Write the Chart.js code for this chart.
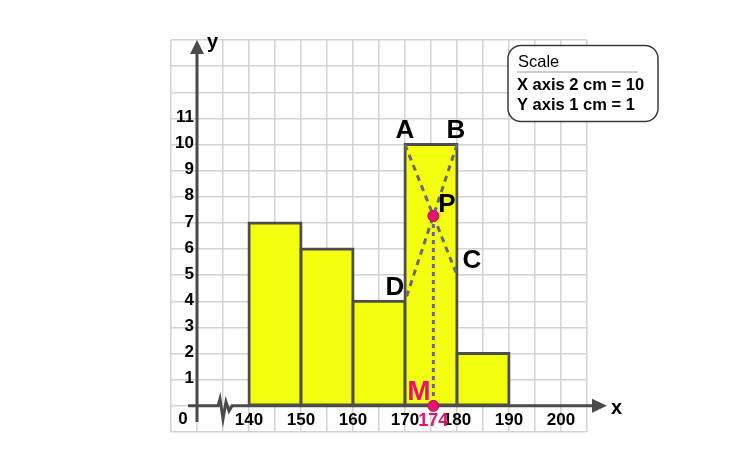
<!DOCTYPE html>
<html>
<head>
<meta charset="utf-8">
<script src="https://cdn.jsdelivr.net/npm/chart.js@4.4.1/dist/chart.umd.min.js"></script>
<style>
  body { margin: 0; background: #fff; }
  #wrap { width: 750px; height: 472px; }
</style>
</head>
<body>
<div id="wrap"><canvas id="myChart"></canvas></div>
<script>
// histogram data
const classMids = [145, 155, 165, 175, 185];
const frequencies = [7, 6, 4, 10, 2];
const xTickLabels = [140, 150, 160, 170, 180, 190, 200];
const yTickLabels = [1, 2, 3, 4, 5, 6, 7, 8, 9, 10, 11];

// mode construction points [x, y]
const pointA = [170, 10];
const pointB = [180, 10];
const pointC = [180, 5];
const pointD = [170, 4];
const pointP = [175.45, 7.27];
const pointM = [175.45, 0];
const modeLabel = '174';

const FONT = '"Liberation Sans", Arial, sans-serif';
const AXIS_COLOR = '#4a4a4a';
const PINK = '#e4136f';

const ctx = document.getElementById('myChart').getContext('2d');

function xy(p) { return { x: p[0], y: p[1] }; }

const drawExtras = {
    id: 'drawExtras',
    beforeDatasetsDraw(chart) {
        const c = chart.ctx;
        const xs = chart.scales.x, ys = chart.scales.y;
        const x0 = xs.getPixelForValue(130);
        const y0 = ys.getPixelForValue(0);
        c.save();
        c.strokeStyle = AXIS_COLOR;
        c.fillStyle = AXIS_COLOR;
        c.lineWidth = 3;
        // x axis with a break
        c.beginPath();
        c.moveTo(188, y0);
        c.lineTo(218, y0);
        c.lineTo(220, y0 - 7);
        c.lineTo(223, y0 + 13);
        c.lineTo(226, y0 - 4);
        c.lineTo(229, y0 + 5);
        c.lineTo(232, y0);
        c.lineTo(595, y0);
        c.stroke();
        c.beginPath();
        c.moveTo(607, y0);
        c.lineTo(592, y0 - 7);
        c.lineTo(592, y0 + 7);
        c.closePath();
        c.fill();
        // y axis
        c.beginPath();
        c.moveTo(x0, 422);
        c.lineTo(x0, 52);
        c.stroke();
        c.beginPath();
        c.moveTo(x0, 40);
        c.lineTo(x0 - 7, 54);
        c.lineTo(x0 + 7, 54);
        c.closePath();
        c.fill();
        c.restore();
    },
    afterDatasetsDraw(chart) {
        const c = chart.ctx;
        const xs = chart.scales.x, ys = chart.scales.y;
        const px = v => xs.getPixelForValue(v);
        const py = v => ys.getPixelForValue(v);
        c.save();
        c.fillStyle = '#000';
        c.textBaseline = 'middle';
        // tick labels
        c.font = 'bold 17px ' + FONT;
        c.textAlign = 'right';
        yTickLabels.forEach(v => c.fillText(String(v), 194, py(v) - 1));
        c.textAlign = 'center';
        c.fillText('0', 183, 419);
        xTickLabels.forEach(v => c.fillText(String(v), px(v), 420));
        // axis names
        c.font = 'bold 20px ' + FONT;
        c.textAlign = 'left';
        c.fillText('y', 207, 42);
        c.fillText('x', 611, 408);
        // construction labels
        c.font = 'bold 26px ' + FONT;
        c.textAlign = 'center';
        c.fillText('A', 405, 131);
        c.fillText('B', 456, 131);
        c.fillText('P', 447, 205);
        c.fillText('C', 472, 261);
        c.fillText('D', 395, 288);
        c.fillStyle = PINK;
        c.font = 'bold 28px ' + FONT;
        c.fillText('M', 419, 392);
        c.font = 'bold 18px ' + FONT;
        c.fillText(modeLabel, px(pointM[0]), 421);
        // scale box
        c.beginPath();
        c.roundRect(508, 45.5, 150, 76, 13);
        c.fillStyle = '#ffffff';
        c.fill();
        c.strokeStyle = '#3a3a3a';
        c.lineWidth = 1.5;
        c.stroke();
        c.beginPath();
        c.moveTo(517, 72);
        c.lineTo(638, 72);
        c.strokeStyle = '#9a9a9a';
        c.lineWidth = 1;
        c.stroke();
        c.fillStyle = '#000';
        c.textAlign = 'left';
        c.font = '16.5px ' + FONT;
        c.fillText('Scale', 518, 62);
        c.font = 'bold 16.5px ' + FONT;
        c.fillText('X axis 2 cm = 10', 517, 85);
        c.fillText('Y axis 1 cm = 1', 517, 105);
        c.restore();
    }
};

const myChart = new Chart(ctx, {
    type: 'bar',
    data: {
        datasets: [
            {
                type: 'bar',
                data: classMids.map((m, i) => ({ x: m, y: frequencies[i] })),
                backgroundColor: '#f4ff10',
                borderColor: '#4d4d4d',
                borderWidth: 3,
                borderSkipped: false,
                inflateAmount: 1.5,
                // tick spacing (5) is half the class width, so widen to fill each class
                barPercentage: 2,
                categoryPercentage: 1,
                order: 5
            },
            {
                type: 'line',
                data: [xy(pointA), xy(pointC)],
                borderColor: '#6a6a6a',
                borderWidth: 3,
                borderDash: [6, 5],
                pointRadius: 0,
                order: 3
            },
            {
                type: 'line',
                data: [xy(pointB), xy(pointD)],
                borderColor: '#6a6a6a',
                borderWidth: 3,
                borderDash: [6, 5],
                pointRadius: 0,
                order: 3
            },
            {
                type: 'line',
                data: [xy(pointP), xy(pointM)],
                borderColor: '#676a80',
                borderWidth: 3,
                borderDash: [4, 4],
                pointRadius: 0,
                order: 2
            },
            {
                type: 'scatter',
                data: [xy(pointP), xy(pointM)],
                backgroundColor: PINK,
                borderColor: '#b80d58',
                borderWidth: 1,
                pointRadius: 5.5,
                order: 1
            }
        ]
    },
    options: {
        responsive: true,
        maintainAspectRatio: false,
        animation: false,
        layout: {
            padding: { left: 171, right: 163, top: 40, bottom: 40 }
        },
        plugins: {
            legend: { display: false },
            tooltip: { enabled: false }
        },
        scales: {
            x: {
                type: 'linear',
                min: 125,
                max: 205,
                offset: false,
                ticks: { display: false, stepSize: 5 },
                border: { display: false },
                grid: { color: '#d2d2d2', lineWidth: 1.5, drawTicks: false, offset: false }
            },
            y: {
                type: 'linear',
                min: -1,
                max: 14,
                beginAtZero: false,
                ticks: { display: false, stepSize: 1 },
                border: { display: false },
                grid: { color: '#d2d2d2', lineWidth: 1.5, drawTicks: false }
            }
        }
    },
    plugins: [drawExtras]
});
</script>
</body>
</html>
